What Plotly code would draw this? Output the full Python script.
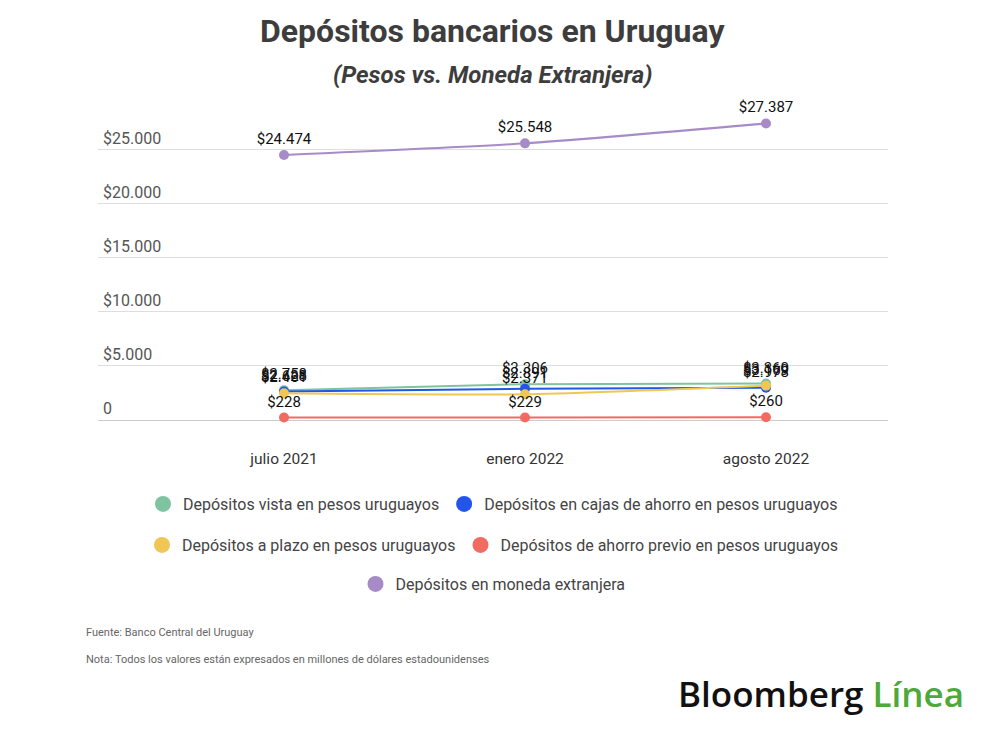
import plotly.graph_objects as go

categories = ["julio 2021", "enero 2022", "agosto 2022"]
vista = [2758, 3306, 3360]
cajas = [2628, 2891, 2978]
plazo = [2461, 2371, 3169]
ahorro_previo = [228, 229, 260]
moneda_ext = [24474, 25548, 27387]

series_names = [
    "Depósitos vista en pesos uruguayos",
    "Depósitos en cajas de ahorro en pesos uruguayos",
    "Depósitos a plazo en pesos uruguayos",
    "Depósitos de ahorro previo en pesos uruguayos",
    "Depósitos en moneda extranjera",
]
series_values = [vista, cajas, plazo, ahorro_previo, moneda_ext]
colors = ["#7fc3a0", "#2255e8", "#f0c655", "#f26b62", "#a78bc8"]
legend_ids = ["legend", "legend", "legend2", "legend2", "legend3"]

y_tickvals = [0, 5000, 10000, 15000, 20000, 25000]
y_ticktext = ["0", "$5.000", "$10.000", "$15.000", "$20.000", "$25.000"]

fig = go.Figure()
FONT = "Roboto"
OFF = 8  # page body margin offset

for name, vals, col in zip(series_names, series_values, colors):
    fig.add_trace(go.Scatter(
        x=[0, 1, 2], y=vals, mode="lines+markers+text",
        line=dict(color=col, width=2, shape="spline", smoothing=0.6),
        marker=dict(color=col, size=10),
        text=vals, texttemplate="$%{y:,.0f}", textposition="top center",
        textfont=dict(family=FONT, size=15, color="#111111"),
        showlegend=False, hoverinfo="skip", cliponaxis=False,
    ))

for name, col, lg in zip(series_names, colors, legend_ids):
    fig.add_trace(go.Scatter(
        x=[None], y=[None], mode="markers", name=name,
        marker=dict(color=col, size=16), legend=lg, showlegend=True,
    ))

W, H = 1000 - OFF, 734 - OFF
left, right, top, bottom = 98 - OFF, 888 - OFF, 117 - OFF, 420 - OFF
pw, ph = right - left, bottom - top

def px(p):
    return (p - OFF - left) / pw

def py(p):
    return (bottom - (p - OFF)) / ph

legend_common = dict(
    orientation="h", xanchor="center", yanchor="middle",
    x=px(493), font=dict(family=FONT, size=16, color="#444444"),
    bgcolor="rgba(0,0,0,0)", itemsizing="trace", traceorder="normal",
)

fig.update_layout(
    width=W, height=H,
    margin=dict(l=left, r=W - right, t=top, b=H - bottom, pad=0),
    paper_bgcolor="white", plot_bgcolor="white",
    separators=",.",
    font=dict(family=FONT, color="#444444"),
    xaxis=dict(
        range=[-(284 - 98) / 241, 2 + (888 - 766) / 241],
        tickvals=[0, 1, 2], ticktext=categories, showgrid=False,
        zeroline=False, showline=False, ticks="",
        tickfont=dict(family=FONT, size=15.5, color="#333333"),
        ticklabelstandoff=27,
    ),
    yaxis=dict(
        range=[0, (420 - 117) / 0.010828],
        tickvals=y_tickvals, ticktext=y_ticktext,
        ticklabelposition="inside top",
        tickfont=dict(family=FONT, size=16, color="#555555"),
        gridcolor="#dedede", gridwidth=1, zeroline=True,
        zerolinecolor="#cccccc", zerolinewidth=1, showline=False,
        ticklabelstandoff=2,
    ),
    legend=dict(legend_common, y=py(504)),
    legend2=dict(legend_common, y=py(545)),
    legend3=dict(legend_common, y=py(584)),
    annotations=[
        dict(text="<b>Depósitos bancarios en Uruguay</b>", xref="paper", yref="paper",
             x=px(492), y=py(31), xanchor="center", yanchor="middle", showarrow=False,
             font=dict(family=FONT, size=32, color="#3d3d3d")),
        dict(text="<b><i>(Pesos vs. Moneda Extranjera)</i></b>", xref="paper", yref="paper",
             x=px(492), y=py(75), xanchor="center", yanchor="middle", showarrow=False,
             font=dict(family=FONT, size=24, color="#3d3d3d")),
        dict(text="Fuente: Banco Central del Uruguay", xref="paper", yref="paper",
             x=px(84), y=py(632), xanchor="left", yanchor="middle", showarrow=False,
             font=dict(family=FONT, size=11, color="#666666")),
        dict(text="Nota: Todos los valores están expresados en millones de dólares estadounidenses",
             xref="paper", yref="paper",
             x=px(84), y=py(659), xanchor="left", yanchor="middle", showarrow=False,
             font=dict(family=FONT, size=11, color="#666666")),
        dict(text="Bloomberg <span style='color:#4ea83a'>Línea</span>", xref="paper", yref="paper",
             x=px(966), y=py(693), xanchor="right", yanchor="middle", showarrow=False,
             font=dict(family="Open Sans", size=35, color="#111111", weight=600)),
    ],
)

fig.write_html("out.html")
